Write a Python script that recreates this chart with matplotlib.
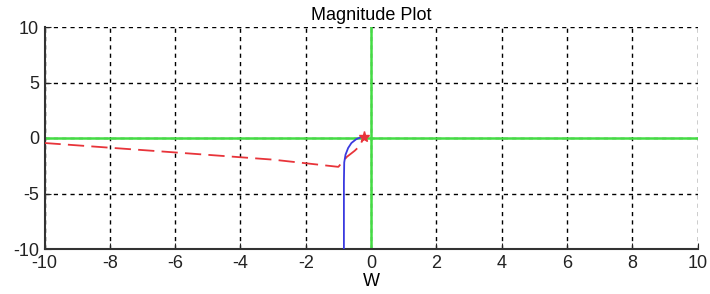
import matplotlib
matplotlib.use('Agg')
import matplotlib.pyplot as plt

# red dashed branch
redX = [-10.0, -6.0, -3.0, -1.0, -0.74, -0.5, -0.34, -0.22]
redY = [-0.45, -1.3, -1.95, -2.6, -1.7, -1.15, -0.7, 0.1]
# blue branch
blueX = [-0.83, -0.83, -0.82, -0.78, -0.7, -0.6, -0.45, -0.3, -0.22]
blueY = [-10.0, -4.0, -2.2, -1.5, -0.9, -0.45, -0.1, 0.08, 0.12]
# marker
starX = [-0.22]
starY = [0.1]

xTicks = list(range(-10, 11, 2))
yTicks = [-10, -5, 0, 5, 10]

plt.rcParams['font.family'] = ['Liberation Sans', 'DejaVu Sans']
plt.rcParams['axes.unicode_minus'] = False

fig = plt.figure(figsize=(7.1, 2.94), dpi=100)
ax = fig.add_axes([44.5 / 710, 45 / 294, 653 / 710, 222 / 294])

ax.axhline(0, color='#44dd44', lw=1.8, zorder=2)
ax.axvline(0, color='#44dd44', lw=1.8, zorder=2)
ax.plot(redX, redY, color='#e8343a', lw=1.3, dashes=(9, 4), zorder=3)
ax.plot(blueX, blueY, color='#3a3adf', lw=1.3, zorder=3)
ax.plot(starX, starY, marker='*', color='#e8343a', ms=8, zorder=4)

ax.set_xlim(-10, 10)
ax.set_ylim(-10, 10)
ax.set_xticks(xTicks)
ax.set_yticks(yTicks)
ax.grid(True, color='black', linestyle=(0, (3, 3)), lw=1.0)
ax.set_axisbelow(True)
for s in ['top', 'right']:
    ax.spines[s].set_visible(False)
for s in ['left', 'bottom']:
    ax.spines[s].set_color('#333333')
    ax.spines[s].set_linewidth(1.5)
ax.tick_params(direction='in', length=4, labelsize=13, colors='#222222', pad=4)
ax.set_xlabel('W', fontsize=13, labelpad=1)
ax.set_title('Magnitude Plot', fontsize=13, pad=5)

fig.savefig('out.png', dpi=100)
